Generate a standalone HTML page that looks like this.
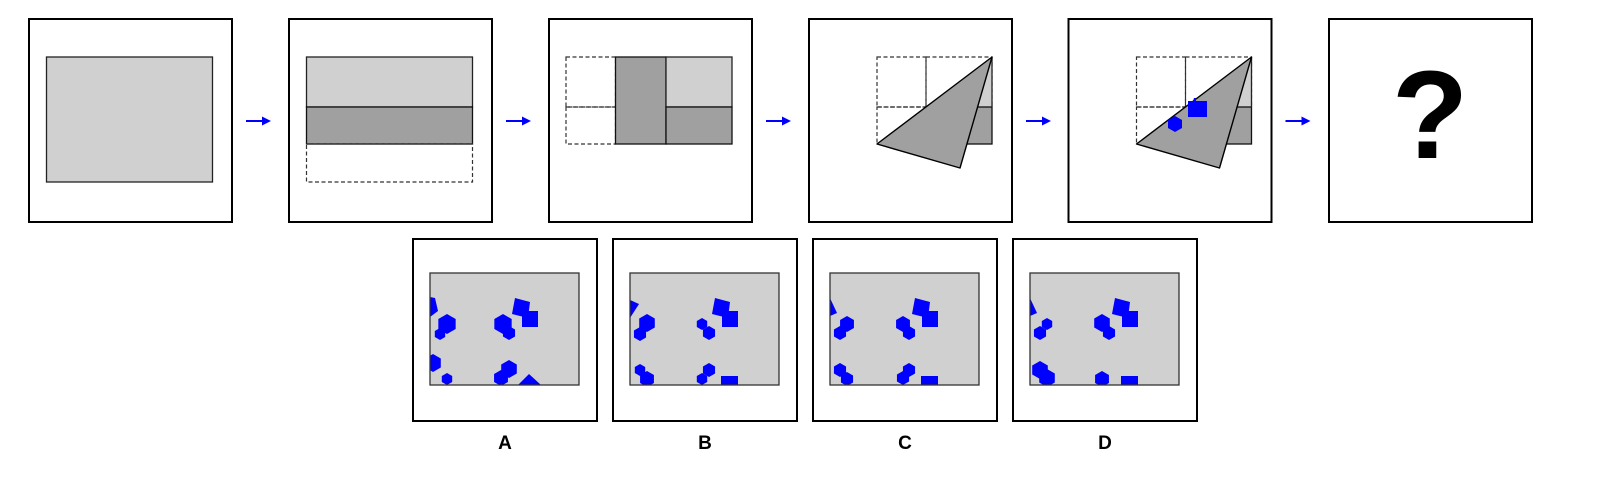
<!DOCTYPE html>
<html><head><meta charset="utf-8"><style>
html,body{margin:0;padding:0;background:#fff;width:1610px;height:490px;overflow:hidden}
svg{display:block}
text{font-family:"Liberation Sans",Arial,sans-serif;font-weight:bold}
</style></head><body>
<svg id="s" width="1610" height="490" viewBox="0 0 1610 490" xmlns="http://www.w3.org/2000/svg">
<defs>
<clipPath id="cA"><rect x="430" y="273" width="149" height="112"/></clipPath>
<clipPath id="cB"><rect x="630" y="273" width="149" height="112"/></clipPath>
<clipPath id="cC"><rect x="830" y="273" width="149" height="112"/></clipPath>
<clipPath id="cD"><rect x="1030" y="273" width="149" height="112"/></clipPath>
</defs>
<!-- panel 1 -->
<g>
<rect x="29" y="19" width="203" height="203" fill="#fff" stroke="#000" stroke-width="2"/>
<rect x="46.5" y="57" width="166" height="125" fill="#d0d0d0" stroke="#222" stroke-width="1.3"/>
</g>
<!-- panel 2 -->
<g>
<rect x="289" y="19" width="203" height="203" fill="#fff" stroke="#000" stroke-width="2"/>
<rect x="306.5" y="57" width="166" height="50" fill="#d0d0d0" stroke="#222" stroke-width="1.3"/>
<rect x="306.5" y="107" width="166" height="37" fill="#a0a0a0" stroke="#111" stroke-width="1.3"/>
<rect x="306.5" y="144" width="166" height="38" fill="none" stroke="#333" stroke-width="1.2" stroke-dasharray="4,2.5"/>
</g>
<!-- panel 3 -->
<g>
<rect x="549" y="19" width="203" height="203" fill="#fff" stroke="#000" stroke-width="2"/>
<rect x="566" y="57" width="49.5" height="50" fill="none" stroke="#333" stroke-width="1.2" stroke-dasharray="4,2.5"/>
<rect x="566" y="107" width="49.5" height="37" fill="none" stroke="#333" stroke-width="1.2" stroke-dasharray="4,2.5"/>
<rect x="615.5" y="57" width="50.5" height="87" fill="#a0a0a0" stroke="#111" stroke-width="1.3"/>
<rect x="666" y="57" width="66" height="50" fill="#d0d0d0" stroke="#222" stroke-width="1.3"/>
<rect x="666" y="107" width="66" height="37" fill="#a0a0a0" stroke="#111" stroke-width="1.3"/>
</g>
<!-- panel 4 -->
<g>
<rect x="809" y="19" width="203" height="203" fill="#fff" stroke="#000" stroke-width="2"/>
<rect x="877" y="57" width="49" height="50" fill="none" stroke="#333" stroke-width="1.2" stroke-dasharray="4,2.5"/>
<rect x="877" y="107" width="49" height="37" fill="none" stroke="#333" stroke-width="1.2" stroke-dasharray="4,2.5"/>
<rect x="926" y="57" width="66" height="50" fill="none" stroke="#333" stroke-width="1.2" stroke-dasharray="4,2.5"/>
<polygon points="992,57 992,107 977.6,107" fill="#d0d0d0"/>
<rect x="926" y="107" width="66" height="37" fill="#a0a0a0" stroke="#111" stroke-width="1.3"/>
<line x1="992" y1="57" x2="992" y2="107" stroke="#222" stroke-width="1.3"/>
<polygon points="877,144 992,57 960,168" fill="#a0a0a0" stroke="#000" stroke-width="1.4" stroke-linejoin="round"/>
</g>
<!-- panel 5 -->
<g>
<rect x="1068.5" y="19" width="203" height="203" fill="#fff" stroke="#000" stroke-width="2"/>
<rect x="1136.5" y="57" width="49" height="50" fill="none" stroke="#333" stroke-width="1.2" stroke-dasharray="4,2.5"/>
<rect x="1136.5" y="107" width="49" height="37" fill="none" stroke="#333" stroke-width="1.2" stroke-dasharray="4,2.5"/>
<rect x="1185.5" y="57" width="66" height="50" fill="none" stroke="#333" stroke-width="1.2" stroke-dasharray="4,2.5"/>
<polygon points="1251.5,57 1251.5,107 1237.1,107" fill="#d0d0d0"/>
<rect x="1185.5" y="107" width="66" height="37" fill="#a0a0a0" stroke="#111" stroke-width="1.3"/>
<line x1="1251.5" y1="57" x2="1251.5" y2="107" stroke="#222" stroke-width="1.3"/>
<polygon points="1136.5,144 1251.5,57 1219.5,168" fill="#a0a0a0" stroke="#000" stroke-width="1.4" stroke-linejoin="round"/>
<polygon points="1175,116 1182,120 1182,128 1175,132 1168,128 1168,120" fill="#0000ff"/>
<polygon points="1188,101 1193,101 1194,98 1196,98 1196,101 1207,101 1207,117 1188,117" fill="#0000ff"/>
</g>
<!-- panel 6 -->
<g>
<rect x="1329" y="19" width="203" height="203" fill="#fff" stroke="#000" stroke-width="2"/>
<text x="1430" y="158" font-size="125" text-anchor="middle" fill="#000">?</text>
</g>
<g id="arrows"></g>
<g id="opts"></g>
</svg>
<script>
var NS='http://www.w3.org/2000/svg';
var svg=document.getElementById('s');
var arrowStarts=[232,492,752,1012,1271.5];
var ag=document.getElementById('arrows');
arrowStarts.forEach(function(x0){
  var g=document.createElementNS(NS,'g');
  
  
  var l=document.createElementNS(NS,'line');
  l.setAttribute('x1',x0+14);l.setAttribute('y1',121);l.setAttribute('x2',x0+32);l.setAttribute('y2',121);
  l.setAttribute('stroke','#0000ff');l.setAttribute('stroke-width','2');
  var p=document.createElementNS(NS,'polygon');
  p.setAttribute('points',(x0+30)+',116.5 '+(x0+39)+',121 '+(x0+30)+',125.5');
  p.setAttribute('fill','#0000ff');
  g.appendChild(l);g.appendChild(p);ag.appendChild(g);
});
var optLabels=['A','B','C','D'];
var optLeft=[413,613,813,1013];
// shapes per option: [type, params] relative to inner rect origin
var hexA=[[17,51,10],[10,61,6],[73,51,10],[79,60,7],[3,90,9],[17,106,6],[79,96,9],[71,105,8]];
var hexB=[[17,50,9],[10,61,7],[72,51,6],[79,60,7],[10,97,6],[17,106,8],[79,97,7],[72,106,6]];
var hexC=[[17,51,8],[10,60,7],[73,51,8],[79,60,7],[10,97,7],[17,106,7],[79,97,7],[73,105,7]];
var hexD=[[17,51,6],[10,60,7],[72,50,9],[79,60,7],[10,97,9],[17,105,9],[72,106,8]];
var hexes=[hexA,hexB,hexC,hexD];
var polysA=[[[0,24],[5,25],[8,38],[0,44]],[[88,112],[99,101],[111,112]]];
var polysB=[[[0,27],[9,31],[0,45]],[[91,103],[108,103],[108,112],[91,112]]];
var polysC=[[[0,25],[7,40],[0,43]],[[91,103],[108,103],[108,112],[91,112]]];
var polysD=[[[0,25],[7,40],[0,43]],[[91,103],[108,103],[108,112],[91,112]]];
var polys=[polysA,polysB,polysC,polysD];
var squares=[[[85,25],[100,29],[98,45],[82,41]],[[92,38],[108,38],[108,54],[92,54]]];
var og=document.getElementById('opts');
function poly(pts,ox,oy,parent,name){
  var p=document.createElementNS(NS,'polygon');
  
  
  p.setAttribute('points',pts.map(function(q){return (ox+q[0])+','+(oy+q[1]);}).join(' '));
  p.setAttribute('fill','#0000ff');parent.appendChild(p);
}
optLabels.forEach(function(lab,i){
  var bx=optLeft[i],ix=bx+17,iy=273;
  var g=document.createElementNS(NS,'g');
  
  
  var r=document.createElementNS(NS,'rect');
  
  
  r.setAttribute('x',bx);r.setAttribute('y',239);r.setAttribute('width',184);r.setAttribute('height',182);
  r.setAttribute('fill','#fff');r.setAttribute('stroke','#000');r.setAttribute('stroke-width','2');
  g.appendChild(r);
  var ir=document.createElementNS(NS,'rect');
  
  
  ir.setAttribute('x',ix);ir.setAttribute('y',iy);ir.setAttribute('width',149);ir.setAttribute('height',112);
  ir.setAttribute('fill','#d0d0d0');
  g.appendChild(ir);
  var cg=document.createElementNS(NS,'g');
  cg.setAttribute('clip-path','url(#c'+lab+')');
  hexes[i].forEach(function(h){
    var pts=[];for(var k=0;k<6;k++){var a=Math.PI/6+k*Math.PI/3;pts.push([h[0]+h[2]*Math.cos(a),h[1]+h[2]*Math.sin(a)]);}
    poly(pts,ix,iy,cg,'blue-hexagon');
  });
  polys[i].forEach(function(p){poly(p,ix,iy,cg,'blue-shape');});
  squares.forEach(function(p){poly(p,ix,iy,cg,'blue-square');});
  g.appendChild(cg);
  var ob=document.createElementNS(NS,'rect');
  ob.setAttribute('x',ix);ob.setAttribute('y',iy);ob.setAttribute('width',149);ob.setAttribute('height',112);
  ob.setAttribute('fill','none');ob.setAttribute('stroke','#333');ob.setAttribute('stroke-width','1.3');
  g.appendChild(ob);
  var t=document.createElementNS(NS,'text');
  
  
  t.setAttribute('x',bx+92);t.setAttribute('y',449);t.setAttribute('font-size','19');t.setAttribute('text-anchor','middle');
  t.textContent=lab;
  g.appendChild(t);
  og.appendChild(g);
});
</script>
</body></html>
